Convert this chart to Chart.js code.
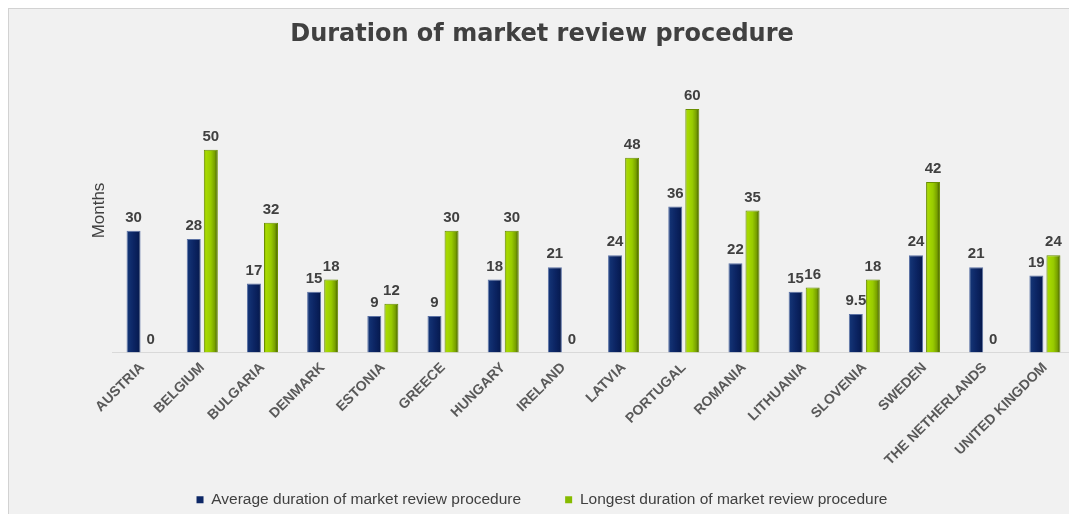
<!DOCTYPE html>
<html>
<head>
<meta charset="utf-8">
<script src="https://cdn.jsdelivr.net/npm/chart.js@4.4.1/dist/chart.umd.min.js"></script>
<style>
  html, body { margin: 0; padding: 0; background: #ffffff; overflow: hidden; width: 1069px; height: 514px; }
  #box { position: absolute; left: 8px; top: 8px; width: 1075px; height: 515px; background: #f1f1f1;
         border-left: 1px solid #d2d2d2; border-top: 1px solid #d2d2d2; }
  #c { display: block; }
</style>
</head>
<body>
<div id="box"><canvas id="c" width="1075" height="515"></canvas></div>
<script>
const countries = ["AUSTRIA","BELGIUM","BULGARIA","DENMARK","ESTONIA","GREECE","HUNGARY","IRELAND","LATVIA","PORTUGAL","ROMANIA","LITHUANIA","SLOVENIA","SWEDEN","THE NETHERLANDS","UNITED KINGDOM"];
const averageMonths = [30, 28, 17, 15, 9, 9, 18, 21, 24, 36, 22, 15, 9.5, 24, 21, 19];
const longestMonths = [0, 50, 32, 18, 12, 30, 30, 0, 48, 60, 35, 16, 18, 42, 0, 24];
const seriesNames = ["Average duration of market review procedure", "Longest duration of market review procedure"];
const yAxisTitle = "Months";
const chartTitle = "Duration of market review procedure";

const CAT_PCT = 0.567, BAR_PCT = 0.82;
const solid = ["#0d2766", "#86bb00"];
const stops = [
  [[0, "#2e4f90"], [0.12, "#133374"], [0.5, "#0c2564"], [0.85, "#071c53"], [1, "#03133a"]],
  [[0, "#86b400"], [0.15, "#a8da00"], [0.5, "#98cb00"], [0.78, "#78a000"], [1, "#3d5600"]]
];

function barFill(ctx) {
  const chart = ctx.chart;
  const xs = chart.scales && chart.scales.x;
  if (ctx.type !== "data" || !xs || !chart.chartArea || xs.width <= 0) return solid[ctx.datasetIndex];
  const cw = xs.width / countries.length;
  const slot = cw * CAT_PCT / 2;
  const bw = slot * BAR_PCT;
  const center = xs.getPixelForValue(ctx.dataIndex) + (ctx.datasetIndex - 0.5) * slot;
  const g = chart.ctx.createLinearGradient(center - bw / 2, 0, center + bw / 2, 0);
  stops[ctx.datasetIndex].forEach(s => g.addColorStop(s[0], s[1]));
  return g;
}

const valueLabels = {
  id: "valueLabels",
  afterDatasetsDraw(chart) {
    const c = chart.ctx;
    c.save();
    c.font = "bold 15px 'Liberation Sans', Arial, sans-serif";
    c.fillStyle = "#404040";
    c.textAlign = "center";
    c.textBaseline = "middle";
    chart.data.datasets.forEach((ds, di) => {
      const meta = chart.getDatasetMeta(di);
      meta.data.forEach((el, i) => {
        c.fillText(String(ds.data[i]), el.x, el.y - 13);
      });
    });
    // y-axis title
    const a = chart.chartArea;
    c.translate(90, (a.top + a.bottom) / 2);
    c.rotate(-Math.PI / 2);
    c.font = "17px 'Liberation Sans', Arial, sans-serif";
    c.fillStyle = "#404040";
    c.fillText(yAxisTitle, 0, 0);
    c.restore();
  }
};

new Chart(document.getElementById("c"), {
  type: "bar",
  data: {
    labels: countries,
    datasets: [
      { label: seriesNames[0], data: averageMonths, backgroundColor: barFill, borderColor: "rgba(75,100,155,0.9)", borderWidth: 1,
        categoryPercentage: CAT_PCT, barPercentage: BAR_PCT },
      { label: seriesNames[1], data: longestMonths, backgroundColor: barFill, borderColor: "#6a8f00", borderWidth: 1,
        categoryPercentage: CAT_PCT, barPercentage: BAR_PCT }
    ]
  },
  options: {
    responsive: false,
    animation: false,
    layout: { padding: { left: 0, right: 9, top: 0, bottom: 6.5 } },
    scales: {
      x: {
        grid: { display: false, drawTicks: false },
        border: { display: true, color: "#d9d9d9", width: 1 },
        ticks: { color: "#595959", font: { family: "'Liberation Sans', Arial, sans-serif", size: 14, weight: "bold" },
                 minRotation: 45, maxRotation: 45, autoSkip: false, padding: 7 },
        afterFit(scale) {
          scale.height = 95.5;
          scale._computeLabelArea = function () { return undefined; };
        }
      },
      y: {
        display: true, min: 0, max: 70,
        grid: { display: false, drawTicks: false },
        border: { display: false },
        ticks: { display: false },
        afterFit(scale) { scale.width = 103; }
      }
    },
    plugins: {
      title: {
        display: true, text: chartTitle, color: "#404040",
        font: { family: "'DejaVu Sans', sans-serif", size: 24, weight: "bold" },
        padding: { top: 11.6, bottom: 19.1 }
      },
      legend: {
        position: "bottom",
        labels: {
          color: "#404040", font: { family: "'Liberation Sans', Arial, sans-serif", size: 15.5 },
          boxWidth: 7, boxHeight: 7, padding: 44,
          generateLabels(chart) {
            const items = Chart.defaults.plugins.legend.labels.generateLabels(chart);
            items.forEach(it => { it.fillStyle = solid[it.datasetIndex]; it.strokeStyle = solid[it.datasetIndex]; it.lineWidth = 0; });
            return items;
          }
        }
      },
      tooltip: { enabled: false }
    }
  },
  plugins: [valueLabels]
});
</script>
</body>
</html>
